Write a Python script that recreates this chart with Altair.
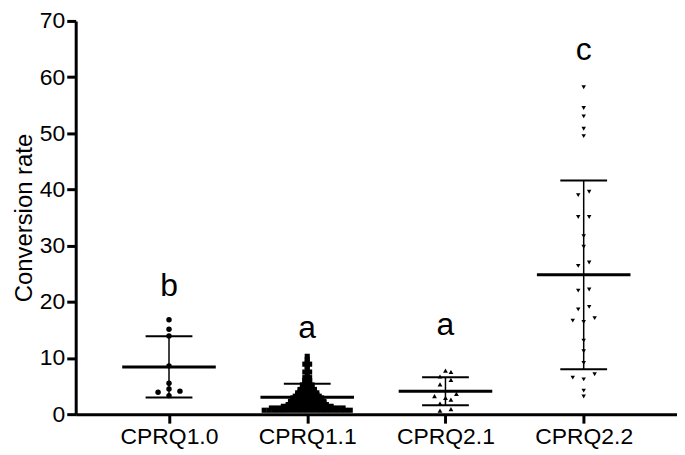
import altair as alt
import pandas as pd

# ---- data ----
categories = ["CPRQ1.0", "CPRQ1.1", "CPRQ2.1", "CPRQ2.2"]
shapes = ["circle", "square", "triangle-up", "triangle-down"]

cprq10 = [16.8, 15.1, 13.9, 8.6, 5.5, 4.5, 4.1, 3.9, 3.3]
cprq11 = ([0.7] * 19 + [0.9] * 13 + [1.1] * 16 + [1.4] * 11 + [1.7] * 9 +
          [2.0] * 8 + [2.3] * 8 + [2.6] * 7 + [2.9] * 7 + [3.2] * 6 +
          [3.5] * 5 + [3.8] * 5 + [4.1] * 4 + [4.4] * 4 + [4.8] * 3 +
          [5.2] * 3 + [5.6] * 2 + [6.0] * 2 + [6.5] * 2 + [7.0] +
          [7.5] * 2 + [8.0] + [8.5] + [8.9] * 2 + [9.3] + [9.7] + [10.3])
cprq21 = [7.75, 7.5, 6.7, 6.1, 5.3, 3.6, 3.2, 2.9, 2.6, 1.9, 0.9, 0.64]
cprq22 = [58.2, 54.5, 53.0, 50.8, 49.5, 39.6, 39.0, 35.1, 35.1, 31.7, 29.8,
          27.0, 26.4, 22.2, 22.0, 19.1, 18.65, 17.1, 16.65, 16.4, 13.1, 11.2,
          9.1, 7.1, 6.5, 6.2, 4.2, 3.15]

means = [8.4, 3.0, 4.08, 24.8]
sds = [5.45, 2.4, 2.5, 16.8]

letters = ["b", "a", "a", "c"]
letter_y = [21.0, 13.5, 14.1, 63.0]

# ---- layout / style constants ----
W, H = 604, 395
PAD_OUT = 0.675
UNIT = W / (3 + 2 * PAD_OUT)          # pixels per category step
row_tol = [0.95, 0.15, 0.95, 0.95]     # value tolerance for a swarm row
spacing_px = [11, 4.8, 11, 11]         # horizontal spacing in a swarm row
marker_size = [30, 20, 50, 50]
FONT = "Liberation Sans"
FS = 23


def swarm(vals, tol, spacing):
    rows = []
    for v in sorted(vals):
        if rows and v - rows[-1][0] <= tol + 1e-9:
            rows[-1].append(v)
        else:
            rows.append([v])
    out = []
    for row in rows:
        n = len(row)
        if n % 2:
            offs = [0] + [s * k for k in range(1, n // 2 + 1) for s in (-1, 1)]
        else:
            offs = [s * (k - 0.5) for k in range(1, n // 2 + 1) for s in (-1, 1)]
        for v, o in zip(row, offs):
            out.append((v, o * spacing))
    return out


recs = []
for i, vals in enumerate([cprq10, cprq11, cprq21, cprq22]):
    for v, off in swarm(vals, row_tol[i], spacing_px[i]):
        recs.append({"group": categories[i], "idx": i, "value": v, "off": off})
pts = pd.DataFrame(recs)

stats = pd.DataFrame({
    "group": categories, "idx": list(range(4)), "mean": means,
    "lo": [m - s for m, s in zip(means, sds)],
    "hi": [m + s for m, s in zip(means, sds)],
    "letter": letters, "ly": letter_y,
})

xscale = alt.Scale(domain=[-PAD_OUT, 3 + PAD_OUT], nice=False, zero=False)
yscale = alt.Scale(domain=[0, 70], nice=False, zero=True)

label_expr = "[" + ",".join("'%s'" % c for c in categories) + "][datum.value]"
xaxis = alt.Axis(values=[0, 1, 2, 3], labelExpr=label_expr, title=None,
                 grid=False, domainWidth=3, domainColor="black",
                 tickWidth=3, tickColor="black", tickSize=9,
                 labelFontSize=FS, labelFont=FONT, labelColor="black",
                 labelPadding=2)
yaxis = alt.Axis(values=list(range(0, 71, 10)), title="Conversion rate",
                 grid=False, domainWidth=3, domainColor="black",
                 tickWidth=3, tickColor="black", tickSize=9,
                 labelFontSize=FS, labelFont=FONT, labelColor="black",
                 labelPadding=2, titleFont=FONT, titleFontSize=24,
                 titleFontWeight="normal", titleColor="black",
                 titlePadding=3)

points = alt.Chart(pts).transform_calculate(
    xpos="datum.idx + datum.off / %f" % UNIT
).mark_point(filled=True, opacity=1, color="black").encode(
    x=alt.X("xpos:Q", scale=xscale, axis=xaxis),
    y=alt.Y("value:Q", scale=yscale, axis=yaxis),
    shape=alt.Shape("group:N", scale=alt.Scale(domain=categories, range=shapes),
                    legend=None),
    size=alt.Size("group:N", scale=alt.Scale(domain=categories, range=marker_size),
                  legend=None),
)

base = alt.Chart(stats)
mean_line = base.transform_calculate(
    x1="datum.idx - %f" % (47 / UNIT), x2="datum.idx + %f" % (47 / UNIT)
).mark_rule(color="black", strokeWidth=3).encode(
    x=alt.X("x1:Q", scale=xscale), x2="x2:Q", y=alt.Y("mean:Q", scale=yscale))

sd_hi = base.transform_calculate(
    x1="datum.idx - %f" % (23.5 / UNIT), x2="datum.idx + %f" % (23.5 / UNIT)
).mark_rule(color="black", strokeWidth=2).encode(
    x=alt.X("x1:Q", scale=xscale), x2="x2:Q", y=alt.Y("hi:Q", scale=yscale))

sd_lo = base.transform_calculate(
    x1="datum.idx - %f" % (23.5 / UNIT), x2="datum.idx + %f" % (23.5 / UNIT)
).mark_rule(color="black", strokeWidth=2).encode(
    x=alt.X("x1:Q", scale=xscale), x2="x2:Q", y=alt.Y("lo:Q", scale=yscale))

vline = base.mark_rule(color="black", strokeWidth=1.5).encode(
    x=alt.X("idx:Q", scale=xscale), y=alt.Y("lo:Q", scale=yscale), y2="hi:Q")

texts = base.mark_text(font=FONT, fontSize=32, baseline="alphabetic",
                       align="center", color="black").encode(
    x=alt.X("idx:Q", scale=xscale), y=alt.Y("ly:Q", scale=yscale),
    text="letter:N")

chart = alt.layer(points, vline, sd_hi, sd_lo, mean_line, texts).properties(
    width=W, height=H, autosize="none",
    padding={"left": 68, "top": 12, "right": 0, "bottom": 34},
).configure_view(stroke=None)

chart.save("out.html", embed_options={"renderer": "svg", "actions": False})
